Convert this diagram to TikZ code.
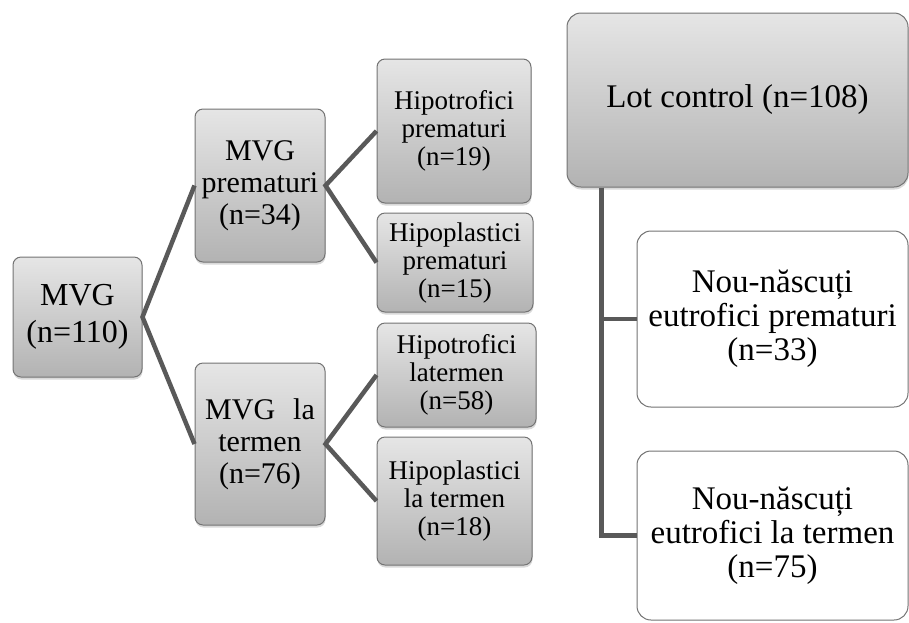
\documentclass[tikz,border=0pt]{standalone}
\usepackage{fontspec}
\setmainfont{Liberation Serif}
\usetikzlibrary{shadows,calc}
\begin{document}
\begin{tikzpicture}[x=1pt,y=-1pt,
 gbox/.style={draw=black!55, line width=1pt, rounded corners=8pt, top color=black!10, bottom color=black!30, align=center, inner sep=0pt, text=black,
   drop shadow={opacity=0.3, shadow xshift=0.5pt, shadow yshift=-2.5pt}},
 wbox/.style={draw=black!55, line width=1pt, rounded corners=14pt, fill=white, align=center, inner sep=0pt},
 conn/.style={draw=black!65, line width=4.5pt},
 fa/.style={font=\fontsize{32}{37}\selectfont},
 fb/.style={font=\fontsize{30}{32}\selectfont},
 fc/.style={font=\fontsize{27}{28}\selectfont},
 fd/.style={font=\fontsize{33}{34}\selectfont},
]
\useasboundingbox (0,0) rectangle (909,622);
\node[gbox, fa, minimum width=129pt, minimum height=120pt] (mvg) at (77.5,317) {MVG\\(n=110)};
\node[gbox, fb, minimum width=130pt, minimum height=153pt] (prem) at (260,185.5) {MVG\\prematuri\\(n=34)};
\node[gbox, fb, minimum width=130pt, minimum height=162pt] (term) at (260,444) {MVG\hspace{0.6em}la\\termen\\(n=76)};
\node[gbox, fc, minimum width=154pt, minimum height=144pt] (hp1) at (454,131) {Hipotrofici\\prematuri\\(n=19)};
\node[gbox, fc, minimum width=156pt, minimum height=99pt] (hp2) at (455,262.5) {Hipoplastici\\prematuri\\(n=15)};
\node[gbox, fc, minimum width=159pt, minimum height=104pt] (hp3) at (456.5,375) {Hipotrofici\\latermen\\(n=58)};
\node[gbox, fc, minimum width=155pt, minimum height=128pt] (hp4) at (454.5,501) {Hipoplastici\\la termen\\(n=18)};
\node[gbox, fd, rounded corners=14pt, minimum width=341pt, minimum height=174pt] (lot) at (737.5,100) {Lot control (n=108)};
\node[wbox, fd, minimum width=271pt, minimum height=176pt] (nn1) at (772.5,319) {Nou-născuți\\eutrofici prematuri\\(n=33)};
\node[wbox, fd, minimum width=271pt, minimum height=169pt] (nn2) at (772.5,535.5) {Nou-născuți\\eutrofici la termen\\(n=75)};
\draw[conn] (prem.west) -- (mvg.east) -- (term.west);
\draw[conn] (hp1.west) -- (prem.east) -- (hp2.west);
\draw[conn] (hp3.west) -- (term.east) -- (hp4.west);
\coordinate (lb) at ($(lot.south west)+(35,0)$);
\draw[conn] (lb) |- (nn1.west);
\draw[conn] (lb) |- (nn2.west);
\end{tikzpicture}
\end{document}
